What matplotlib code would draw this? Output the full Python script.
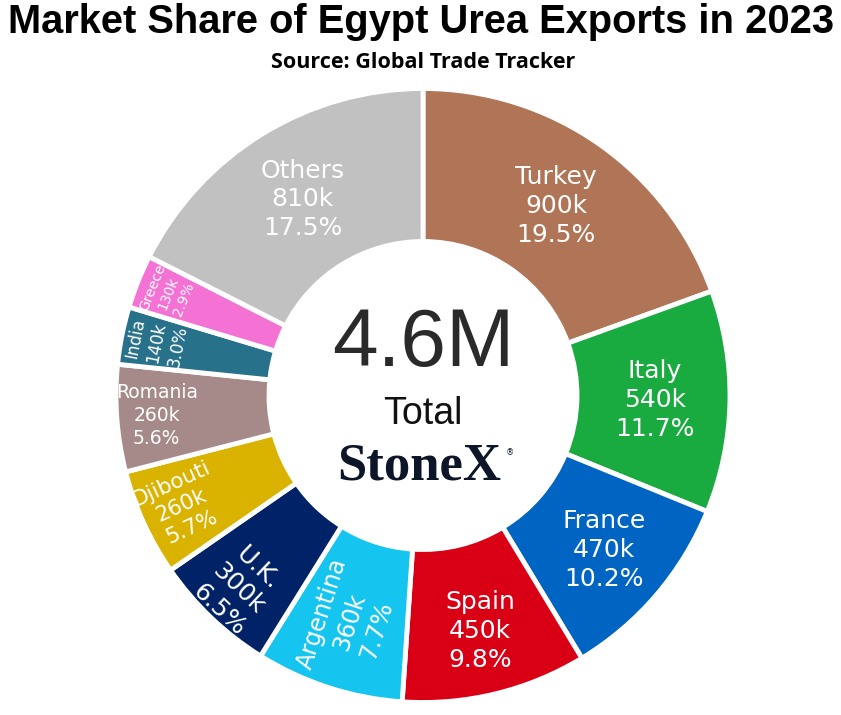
import numpy as np
import matplotlib
matplotlib.use("Agg")
import matplotlib.pyplot as plt

# ---- data ----
countries = ["Turkey", "Italy", "France", "Spain", "Argentina", "U.K.",
             "Djibouti", "Romania", "India", "Greece", "Others"]
values_k = [900, 540, 470, 450, 360, 300, 260, 260, 140, 130, 810]
value_labels = ["900k", "540k", "470k", "450k", "360k", "300k",
                "260k", "260k", "140k", "130k", "810k"]
pct_labels = ["19.5%", "11.7%", "10.2%", "9.8%", "7.7%", "6.5%",
              "5.7%", "5.6%", "3.0%", "2.9%", "17.5%"]
total_label = "4.6M"

# ---- style ----
colors = ["#b07457", "#1aab40", "#0064c3", "#d90016", "#16c4f0", "#002266",
          "#dab200", "#a68a89", "#28718a", "#f472d4", "#c1c1c1"]
orient = ["h", "h", "h", "h", "r", "t", "r", "h", "t", "t", "h"]
label_size = [18, 18, 18, 18, 17, 18, 15.5, 13.5, 12, 10, 18]
label_rfrac = [0.755, 0.755, 0.775, 0.79, 0.775, 0.87, 0.865, 0.87, 0.885, 0.895, 0.75]

W, H = 841, 715
fig = plt.figure(figsize=(W / 100, H / 100), dpi=100)
ax = fig.add_axes([0, 0, 1, 1])

cx, cy = 423, H - 395.5
R = 307
ring = 153

wedges, _ = ax.pie(values_k, colors=colors, startangle=90, counterclock=False,
                   radius=R, center=(cx, cy), frame=True,
                   wedgeprops=dict(width=ring, edgecolor="white", linewidth=3.5))
ax.set_xlim(0, W)
ax.set_ylim(0, H)
ax.set_aspect("equal")
ax.axis("off")

for i, w in enumerate(wedges):
    theta = (w.theta1 + w.theta2) / 2.0
    r = R * label_rfrac[i]
    x = cx + r * np.cos(np.radians(theta))
    y = cy + r * np.sin(np.radians(theta))
    if orient[i] == "h":
        rot = 0
    else:
        rot = theta - 90 if orient[i] == "t" else theta
        while rot > 90:
            rot -= 180
        while rot <= -90:
            rot += 180
    ax.text(x, y, f"{countries[i]}\n{value_labels[i]}\n{pct_labels[i]}",
            ha="center", va="center", rotation=rot, rotation_mode="anchor",
            color="white", fontsize=label_size[i], family="DejaVu Sans",
            linespacing=1.25, multialignment="center")

# center text
ax.text(cx, H - 345, total_label, ha="center", va="center", fontsize=59,
        family="Liberation Sans", color="#2a2a2a")
ax.text(cx, H - 414, "Total", ha="center", va="center", fontsize=27,
        family="Liberation Sans", color="#111111")
ax.text(cx - 4, H - 467, "StoneX", ha="center", va="center", fontsize=38,
        family="Liberation Serif", weight="bold", color="#0d1628")
ax.text(cx + 87, H - 453, "®", ha="center", va="center", fontsize=6,
        family="DejaVu Sans", color="#0d1628")

# titles
fig.text(421 / W, 1 - 22 / H, "Market Share of Egypt Urea Exports in 2023",
         ha="center", va="center", fontsize=28.7, weight="bold",
         family="Liberation Sans", color="black")
fig.text(423 / W, 1 - 62 / H, "Source: Global Trade Tracker",
         ha="center", va="center", fontsize=15.5, weight="bold",
         family="Open Sans", color="black")

fig.savefig("out.png", dpi=100)
